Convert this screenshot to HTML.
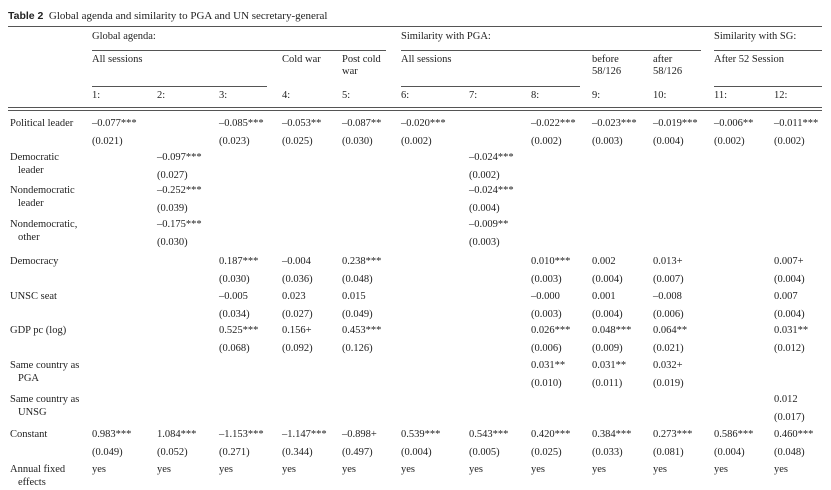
<!DOCTYPE html>
<html><head><meta charset="utf-8">
<style>
body{margin:0;width:831px;height:490px;background:#fff;position:relative;overflow:hidden;font-family:"Liberation Serif",serif;font-size:10.5px;color:#222}
.t{position:absolute;white-space:nowrap;line-height:12px}
.r{position:absolute;background:#555;height:1px}
</style></head><body>
<div class="t" style="left:8px;top:10px;font-size:11px"><b style="font-family:'Liberation Sans',sans-serif;font-size:10.5px">Table 2</b>&nbsp; Global agenda and similarity to PGA and UN secretary-general</div>
<div class="r" style="left:8px;top:26px;width:814px"></div>
<div class="t" style="left:92px;top:31px">Global agenda:</div>
<div class="t" style="left:401px;top:31px">Similarity with PGA:</div>
<div class="t" style="left:714px;top:31px">Similarity with SG:</div>
<div class="r" style="left:92px;top:50px;width:294px"></div>
<div class="r" style="left:401px;top:50px;width:300px"></div>
<div class="r" style="left:714px;top:50px;width:108px"></div>
<div class="t" style="left:92px;top:54px">All sessions</div>
<div class="t" style="left:282px;top:54px">Cold war</div>
<div class="t" style="left:342px;top:54px">Post cold<br>war</div>
<div class="t" style="left:401px;top:54px">All sessions</div>
<div class="t" style="left:592px;top:54px">before<br>58/126</div>
<div class="t" style="left:653px;top:54px">after<br>58/126</div>
<div class="t" style="left:714px;top:54px">After 52 Session</div>
<div class="r" style="left:92px;top:86px;width:175px"></div>
<div class="r" style="left:401px;top:86px;width:179px"></div>
<div class="r" style="left:714px;top:86px;width:108px"></div>
<div class="r" style="left:8px;top:107px;width:814px"></div>
<div class="r" style="left:8px;top:110px;width:814px"></div>
<div id="tbl"></div>
<script>
const colX=[92,157,219,282,342,401,469,531,592,653,714,774];
const colNames=["1:","2:","3:","4:","5:","6:","7:","8:","9:","10:","11:","12:"];
const rowLabels=[["Political leader"],["Democratic","leader"],["Nondemocratic","leader"],["Nondemocratic,","other"],["Democracy"],["UNSC seat"],["GDP pc (log)"],["Same country as","PGA"],["Same country as","UNSG"],["Constant"],["Annual fixed","effects"]];
const rowY=[118,152,185,219,256,291,325,360,394,429,464];
const coefs=[
["–0.077***","","–0.085***","–0.053**","–0.087**","–0.020***","","–0.022***","–0.023***","–0.019***","–0.006**","–0.011***"],
["","–0.097***","","","","","–0.024***","","","","",""],
["","–0.252***","","","","","–0.024***","","","","",""],
["","–0.175***","","","","","–0.009**","","","","",""],
["","","0.187***","–0.004","0.238***","","","0.010***","0.002","0.013+","","0.007+"],
["","","–0.005","0.023","0.015","","","–0.000","0.001","–0.008","","0.007"],
["","","0.525***","0.156+","0.453***","","","0.026***","0.048***","0.064**","","0.031**"],
["","","","","","","","0.031**","0.031**","0.032+","",""],
["","","","","","","","","","","","0.012"],
["0.983***","1.084***","–1.153***","–1.147***","–0.898+","0.539***","0.543***","0.420***","0.384***","0.273***","0.586***","0.460***"],
["yes","yes","yes","yes","yes","yes","yes","yes","yes","yes","yes","yes"]];
const ses=[
["(0.021)","","(0.023)","(0.025)","(0.030)","(0.002)","","(0.002)","(0.003)","(0.004)","(0.002)","(0.002)"],
["","(0.027)","","","","","(0.002)","","","","",""],
["","(0.039)","","","","","(0.004)","","","","",""],
["","(0.030)","","","","","(0.003)","","","","",""],
["","","(0.030)","(0.036)","(0.048)","","","(0.003)","(0.004)","(0.007)","","(0.004)"],
["","","(0.034)","(0.027)","(0.049)","","","(0.003)","(0.004)","(0.006)","","(0.004)"],
["","","(0.068)","(0.092)","(0.126)","","","(0.006)","(0.009)","(0.021)","","(0.012)"],
["","","","","","","","(0.010)","(0.011)","(0.019)","",""],
["","","","","","","","","","","","(0.017)"],
["(0.049)","(0.052)","(0.271)","(0.344)","(0.497)","(0.004)","(0.005)","(0.025)","(0.033)","(0.081)","(0.004)","(0.048)"],
["","","","","","","","","","","",""]];
const tbl=document.getElementById('tbl');
function put(txt,x,y){const d=document.createElement('div');d.className='t';d.style.left=x+'px';d.style.top=y+'px';d.textContent=txt;tbl.appendChild(d);return d;}
colNames.forEach((c,i)=>{
 const el=put(c,colX[i],90);
 
 
});
rowLabels.forEach((lines,r)=>{
 lines.forEach((ln,k)=>{
  const el=put(ln,k?18:10,rowY[r]+k*13);
  
  
 });
 coefs[r].forEach((v,c)=>{
  if(v){const el=put(v,colX[c],rowY[r]);
  
  }
 });
 ses[r].forEach((v,c)=>{
  if(v){const el=put(v,colX[c],rowY[r]+18);
  
  }
 });
});
</script>
</body></html>
